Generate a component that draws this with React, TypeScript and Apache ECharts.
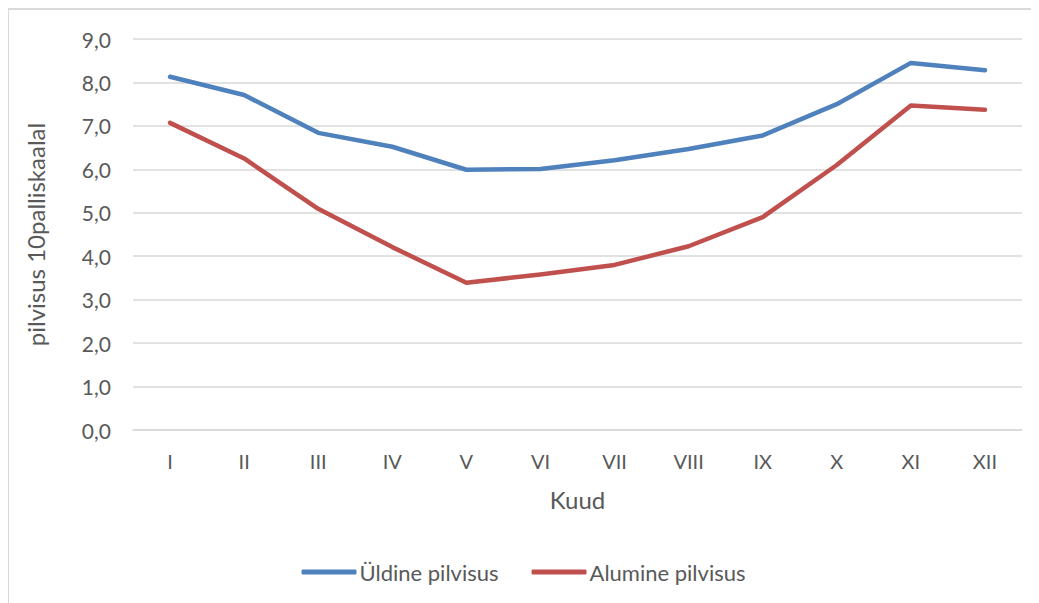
import React, { useEffect, useRef } from "react";
import * as echarts from "echarts";

const months = ["I", "II", "III", "IV", "V", "VI", "VII", "VIII", "IX", "X", "XI", "XII"];
const uldine = [8.13, 7.71, 6.84, 6.52, 5.99, 6.01, 6.21, 6.47, 6.78, 7.5, 8.45, 8.28];
const alumine = [7.07, 6.25, 5.09, 4.21, 3.39, 3.58, 3.8, 4.23, 4.9, 6.1, 7.47, 7.37];
const seriesNames = ["Üldine pilvisus", "Alumine pilvisus"];

const FONT = "Lato, 'Open Sans', sans-serif";
const TXT = "#595959";

export default function App() {
  const ref = useRef<HTMLDivElement>(null);
  useEffect(() => {
    if (!ref.current) return;
    const chart = echarts.init(ref.current, null, { renderer: "svg" });
    chart.setOption({
      animation: false,
      backgroundColor: "#ffffff",
      textStyle: { fontFamily: FONT, color: TXT },
      grid: { left: 124, right: 16, top: 29, bottom: 173, containLabel: false },
      legend: {
        bottom: 15,
        left: "center",
        icon: "roundRect",
        itemWidth: 55,
        itemHeight: 5,
        itemGap: 33,
        textStyle: { fontFamily: FONT, fontSize: 22, color: TXT, padding: [0, 0, 0, -2] },
        data: seriesNames,
      },
      xAxis: {
        type: "category",
        data: months,
        boundaryGap: true,
        name: "Kuud",
        nameLocation: "middle",
        nameGap: 57,
        nameTextStyle: { fontFamily: FONT, fontSize: 24, color: TXT },
        axisLine: { lineStyle: { color: "#d9d9d9", width: 1.5 } },
        axisTick: { show: false },
        axisLabel: { fontFamily: FONT, fontSize: 20, color: TXT, margin: 21 },
      },
      yAxis: {
        type: "value",
        min: 0,
        max: 9,
        interval: 1,
        name: "pilvisus 10palliskaalal",
        nameLocation: "middle",
        nameGap: 86,
        nameTextStyle: { fontFamily: FONT, fontSize: 24, color: TXT },
        axisLine: { show: false },
        axisTick: { show: false },
        splitLine: { lineStyle: { color: "#d9d9d9", width: 1.5 } },
        axisLabel: {
          fontFamily: FONT,
          fontSize: 21,
          color: TXT,
          margin: 22,
          formatter: (v: number) => v.toFixed(1).replace(".", ","),
        },
      },
      series: [
        {
          name: seriesNames[0],
          type: "line",
          data: uldine,
          showSymbol: false,
          symbol: "none",
          lineStyle: { color: "#4f81bd", width: 4.5, cap: "round", join: "round" },
          itemStyle: { color: "#4f81bd" },
        },
        {
          name: seriesNames[1],
          type: "line",
          data: alumine,
          showSymbol: false,
          symbol: "none",
          lineStyle: { color: "#c0504d", width: 4.5, cap: "round", join: "round" },
          itemStyle: { color: "#c0504d" },
        },
      ],
    });
    return () => chart.dispose();
  }, []);
  return (
    <div
      style={{
        width: 1031,
        height: 595,
        borderLeft: "2px solid #d9d9d9",
        borderTop: "2px solid #d9d9d9",
        boxSizing: "border-box",
        marginLeft: -1,
      }}
    >
      <div ref={ref} style={{ width: 1029, height: 593 }} />
    </div>
  );
}
